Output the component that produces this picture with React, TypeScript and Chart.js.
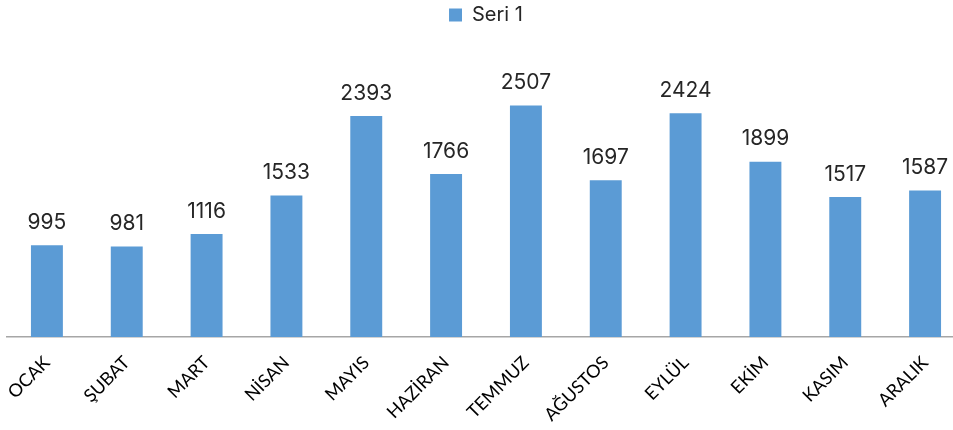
import React, { useEffect, useRef } from "react";
import { Chart, registerables } from "chart.js";

Chart.register(...registerables);

const categories = ["OCAK", "ŞUBAT", "MART", "NİSAN", "MAYIS", "HAZİRAN", "TEMMUZ", "AĞUSTOS", "EYLÜL", "EKİM", "KASIM", "ARALIK"];
const seriesName = "Seri 1";
const values = [995, 981, 1116, 1533, 2393, 1766, 2507, 1697, 2424, 1899, 1517, 1587];

const valueLabelPlugin = {
  id: "valueLabels",
  afterDatasetsDraw(chart: any) {
    const ctx = chart.ctx;
    const meta = chart.getDatasetMeta(0);
    ctx.save();
    ctx.font = "21px Inter";
    ctx.fillStyle = "#262626";
    ctx.textAlign = "center";
    ctx.textBaseline = "bottom";
    meta.data.forEach((bar: any, i: number) => {
      ctx.fillText(String(values[i]), bar.x, bar.y - 12);
    });
    ctx.restore();
  },
};

const legendHeightPlugin = {
  id: "legendHeight",
  beforeInit(chart: any) {
    const orig = chart.legend.fit;
    chart.legend.fit = function () {
      orig.call(this);
      this.height = 60;
    };
  },
};

export default function App() {
  const ref = useRef<HTMLCanvasElement>(null);
  useEffect(() => {
    const chart = new Chart(ref.current!, {
      type: "bar",
      data: {
        labels: categories,
        datasets: [
          {
            label: seriesName,
            data: values,
            backgroundColor: "#5B9BD5",
            borderWidth: 0,
            barPercentage: 0.4,
            categoryPercentage: 1,
          },
        ],
      },
      options: {
        animation: false,
        responsive: false,
        maintainAspectRatio: false,
        layout: { padding: { left: 7, right: 0, top: 0, bottom: 0 } },
        plugins: {
          tooltip: { enabled: false },
          legend: {
            position: "top",
            labels: {
              font: { family: "Inter", size: 20 },
              color: "#262626",
              boxWidth: 13,
              boxHeight: 13,
              padding: 5,
            },
          },
        },
        scales: {
          y: { display: false, min: 0, max: 3000 },
          x: {
            grid: { display: false, drawTicks: false },
            border: { color: "#a6a6a6", width: 1.5 },
            ticks: {
              font: { family: "Lato", size: 18 },
              color: "#000",
              minRotation: 45,
              maxRotation: 45,
              padding: 15,
            },
            afterFit: (scale: any) => {
              scale.height = 93;
              scale.paddingLeft = 0;
              scale.paddingRight = 0;
            },
          },
        },
      },
      plugins: [valueLabelPlugin, legendHeightPlugin],
    });
    return () => chart.destroy();
  }, []);
  return (
    <div style={{ position: "fixed", left: 0, top: 0, width: 953, height: 430, overflow: "hidden", background: "#fff" }}>
      <canvas ref={ref} width={965} height={430} style={{ display: "block" }} />
    </div>
  );
}
